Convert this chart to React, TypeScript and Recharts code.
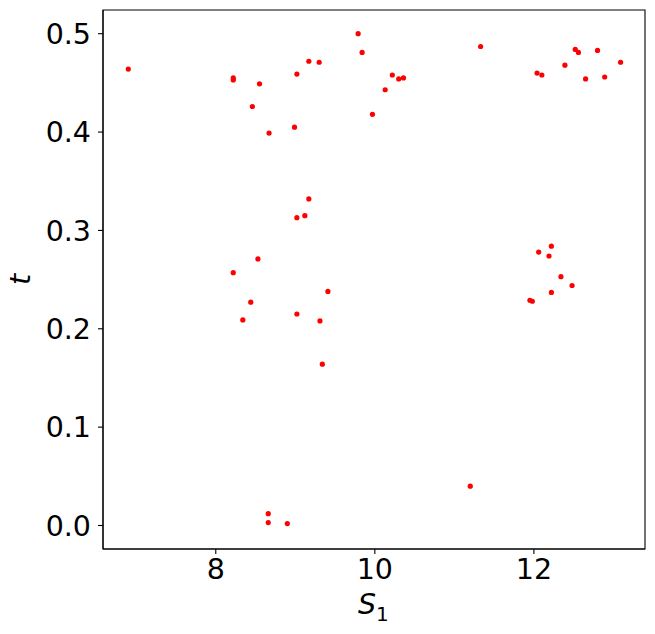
import React from 'react';
import { ScatterChart, Scatter, XAxis, YAxis, ReferenceArea } from 'recharts';

// S1 values (x) and t values (y)
const s1Values = [
  6.90, 8.22, 8.22, 8.55, 8.46, 8.67, 8.99, 9.02, 9.17, 9.30,
  9.79, 9.84, 9.97, 10.13, 10.22, 10.30, 10.36, 11.33, 12.04, 12.10,
  12.39, 12.52, 12.56, 12.80, 12.65, 12.89, 13.09, 9.17, 9.02, 9.12,
  8.53, 8.22, 9.41, 8.44, 8.34, 9.02, 9.31, 9.34, 12.22, 12.06,
  12.19, 12.34, 12.48, 12.22, 11.95, 11.98, 8.66, 8.66, 8.90, 11.20,
];
const tValues = [
  0.464, 0.455, 0.453, 0.449, 0.426, 0.399, 0.405, 0.459, 0.472, 0.471,
  0.500, 0.481, 0.418, 0.443, 0.458, 0.454, 0.455, 0.487, 0.460, 0.458,
  0.468, 0.484, 0.481, 0.483, 0.454, 0.456, 0.471, 0.332, 0.313, 0.315,
  0.271, 0.257, 0.238, 0.227, 0.209, 0.215, 0.208, 0.164, 0.284, 0.278,
  0.274, 0.253, 0.244, 0.237, 0.229, 0.228, 0.012, 0.003, 0.002, 0.040,
];

const xTicks = [8, 10, 12];
const yTicks = [0, 0.1, 0.2, 0.3, 0.4, 0.5];

const X_DOMAIN: [number, number] = [6.582, 13.397];
const Y_DOMAIN: [number, number] = [-0.0239, 0.5241];

const FONT = '"DejaVu Sans", sans-serif';

const points = s1Values.map((s, i) => ({ s, t: tValues[i] }));

const Dot = (props: any) => <circle cx={props.cx} cy={props.cy} r={2.6} fill="#ff0000" />;

const XLabel = ({ viewBox }: any) => {
  const cx = viewBox.x + viewBox.width / 2;
  return (
    <text x={cx - 16} y={614} fontFamily={FONT} fontSize={28.5} fill="#000">
      <tspan fontStyle="italic">S</tspan>
      <tspan fontSize={20} dy={7}>1</tspan>
    </text>
  );
};

const YLabel = ({ viewBox }: any) => {
  const cy = viewBox.y + viewBox.height / 2;
  return (
    <text
      x={0}
      y={0}
      transform={`translate(30, ${cy}) rotate(-90)`}
      textAnchor="middle"
      fontFamily={FONT}
      fontSize={28.5}
      fontStyle="italic"
      fill="#000"
    >
      t
    </text>
  );
};

export default function App() {
  return (
    <div style={{ position: 'absolute', left: 0, top: 0, width: 655, height: 634, background: '#fff' }}>
      <ScatterChart width={655} height={634} margin={{ top: 10, right: 10, bottom: 0, left: 0 }}>
        <XAxis
          type="number"
          dataKey="s"
          domain={X_DOMAIN}
          allowDataOverflow
          ticks={xTicks}
          height={85}
          tickSize={5}
          tickMargin={5}
          stroke="#000"
          tick={{ fill: '#000', fontSize: 28.5, fontFamily: FONT }}
          tickLine={{ stroke: '#000', strokeWidth: 1.1 }}
          axisLine={{ stroke: '#000', strokeWidth: 1.1 }}
          label={<XLabel />}
        />
        <YAxis
          type="number"
          dataKey="t"
          domain={Y_DOMAIN}
          allowDataOverflow
          ticks={yTicks}
          width={103}
          tickSize={5}
          tickMargin={7}
          tickFormatter={(v: number) => v.toFixed(1)}
          stroke="#000"
          tick={{ fill: '#000', fontSize: 28.5, fontFamily: FONT }}
          tickLine={{ stroke: '#000', strokeWidth: 1.1 }}
          axisLine={{ stroke: '#000', strokeWidth: 1.1 }}
          label={<YLabel />}
        />
        <ReferenceArea
          x1={X_DOMAIN[0]}
          x2={X_DOMAIN[1]}
          y1={Y_DOMAIN[0]}
          y2={Y_DOMAIN[1]}
          fill="none"
          fillOpacity={0}
          stroke="#000"
          strokeWidth={1.1}
        />
        <Scatter data={points} shape={<Dot />} isAnimationActive={false} />
      </ScatterChart>
    </div>
  );
}
